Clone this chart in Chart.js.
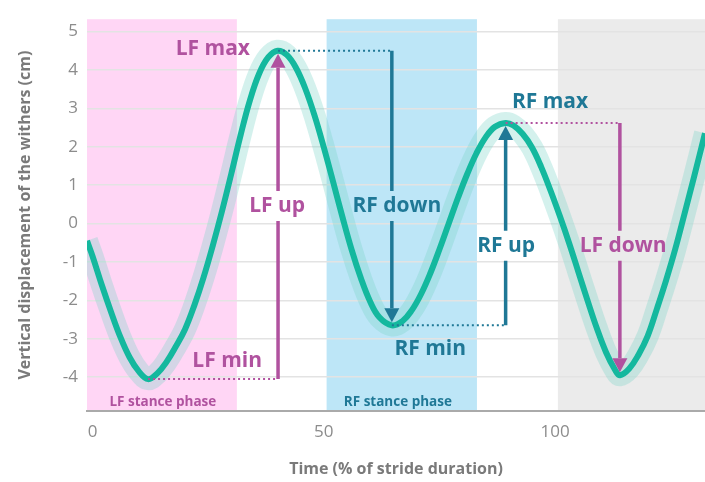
<!DOCTYPE html>
<html>
<head>
<meta charset="utf-8">
<script src="https://cdn.jsdelivr.net/npm/chart.js@4.4.1/dist/chart.umd.min.js"></script>
<style>
	html, body { margin: 0; padding: 0; background: #fff; }
	#wrap { width: 705px; height: 482px; }
</style>
</head>
<body>
<div id="wrap"><canvas id="chart"></canvas></div>
<script>

// withers trace (x = % of stride, y = cm)
var strideX  = [-1.2, 0, 2, 4, 6, 8, 10, 12, 14, 16, 18, 20, 22, 24, 26, 28, 30, 32, 34, 36, 38, 40,
	42, 44, 46, 48, 50, 52, 54, 56, 58, 60, 62, 64.7, 67, 69, 71, 73, 75, 77, 79, 81, 83, 85, 87, 89.3,
	91, 93, 95, 97, 99, 101, 103, 105, 107, 109, 111, 113, 114, 116, 118, 120, 122, 124, 126, 128, 130, 132.4];
var withersY = [-0.45, -0.85, -1.6, -2.3, -2.95, -3.48, -3.85, -4.05, -3.9, -3.6, -3.2, -2.75, -2.13, -1.4, -0.57, 0.33, 1.3, 2.3, 3.2, 3.9, 4.33, 4.5,
	4.39, 4.05, 3.51, 2.81, 1.98, 1.09, 0.18, -0.68, -1.42, -2.03, -2.44, -2.65, -2.54, -2.26, -1.84, -1.3, -0.67, 0.0, 0.67, 1.29, 1.83, 2.25, 2.52, 2.62,
	2.55, 2.33, 1.98, 1.47, 0.86, 0.2, -0.5, -1.25, -2.0, -2.72, -3.35, -3.82, -3.95, -3.78, -3.42, -2.93, -2.22, -1.47, -0.65, 0.27, 1.2, 2.35];

var xTicks = [0, 50, 100];
var yTicks = [-4, -3, -2, -1, 0, 1, 2, 3, 4, 5];

var purple = "#b0529f",
	blue   = "#1f7896";

// stance phases
var phaseStart  = [-1.2, 50.6, 100.6];
var phaseEnd    = [31.2, 83.1, 132.4];
var phaseColors = ["#ffd6f5", "#bde6f7", "#ebebeb"];
var phaseNames  = ["LF stance phase", "RF stance phase"];
var phaseTextX  = [15.2, 66.0];
var phaseTextY  = -4.65;

// vertical arrows between extremes
var arrowNames  = ["LF up", "RF down", "RF up", "LF down"];
var arrowX      = [40.1, 64.7, 89.3, 114];
var arrowFrom   = [-4.05, 4.5, -2.65, 2.62];
var arrowTo     = [4.5, -2.65, 2.62, -3.95];
var arrowTextX  = [39.9, 65.8, 89.4, 114.7];
var arrowTextY  = [0.46, 0.46, -0.58, -0.58];
var arrowColors = [purple, blue, blue, purple];

// dotted guides from each extreme to its arrow
var dotFromX  = [12, 40.1, 64.7, 89.3];
var dotToX    = [40.1, 64.7, 89.3, 114];
var dotY      = [-4.05, 4.5, -2.65, 2.62];
var dotColors = [purple, blue, blue, purple];

// extreme labels
var peakNames  = ["LF max", "LF min", "RF min", "RF max"];
var peakTextX  = [26.0, 29.1, 73.0, 98.9];
var peakTextY  = [4.55, -3.58, -3.27, 3.16];
var peakColors = [purple, purple, blue, blue];

function drawArrow(ctx, x, y0, y1, yText, color) {
	var dir = y1 < y0 ? -1 : 1, head = 14, half = 7.5, gap = 15;
	y1 = y1 - dir * 3;
	ctx.strokeStyle = color;
	ctx.fillStyle = color;
	ctx.lineWidth = 3.5;
	ctx.setLineDash([]);
	ctx.beginPath();
	ctx.moveTo(x, y0);
	ctx.lineTo(x, yText - dir * gap);
	ctx.moveTo(x, yText + dir * gap);
	ctx.lineTo(x, y1 - dir * head);
	ctx.stroke();
	ctx.beginPath();
	ctx.moveTo(x, y1);
	ctx.lineTo(x - half, y1 - dir * head);
	ctx.lineTo(x + half, y1 - dir * head);
	ctx.closePath();
	ctx.fill();
}

var gaitPlugin = {
	id: "gait",
	beforeDraw: function (chart) {
		var ctx = chart.ctx, area = chart.chartArea, xs = chart.scales.x;
		ctx.save();
		for (var i = 0; i < phaseStart.length; i++) {
			var x0 = Math.max(area.left, xs.getPixelForValue(phaseStart[i]));
			var x1 = Math.min(area.right, xs.getPixelForValue(phaseEnd[i]));
			ctx.fillStyle = phaseColors[i];
			ctx.fillRect(x0, area.top, x1 - x0, area.bottom - area.top);
		}
		ctx.restore();
	},
	afterDatasetsDraw: function (chart) {
		var ctx = chart.ctx, xs = chart.scales.x, ys = chart.scales.y, i;
		ctx.save();

		ctx.lineWidth = 2;
		ctx.setLineDash([2, 3]);
		for (i = 0; i < dotY.length; i++) {
			ctx.strokeStyle = dotColors[i];
			ctx.beginPath();
			ctx.moveTo(xs.getPixelForValue(dotFromX[i]), ys.getPixelForValue(dotY[i]));
			ctx.lineTo(xs.getPixelForValue(dotToX[i]), ys.getPixelForValue(dotY[i]));
			ctx.stroke();
		}

		for (i = 0; i < arrowX.length; i++) {
			drawArrow(ctx, xs.getPixelForValue(arrowX[i]), ys.getPixelForValue(arrowFrom[i]),
				ys.getPixelForValue(arrowTo[i]), ys.getPixelForValue(arrowTextY[i]), arrowColors[i]);
		}

		ctx.textAlign = "center";
		ctx.textBaseline = "middle";
		ctx.font = "bold 21px 'Open Sans'";
		for (i = 0; i < arrowNames.length; i++) {
			ctx.fillStyle = arrowColors[i];
			ctx.fillText(arrowNames[i], xs.getPixelForValue(arrowTextX[i]), ys.getPixelForValue(arrowTextY[i]));
		}
		for (i = 0; i < peakNames.length; i++) {
			ctx.fillStyle = peakColors[i];
			ctx.fillText(peakNames[i], xs.getPixelForValue(peakTextX[i]), ys.getPixelForValue(peakTextY[i]));
		}

		ctx.font = "bold 13.5px 'Open Sans'";
		ctx.fillStyle = purple;
		ctx.fillText(phaseNames[0], xs.getPixelForValue(phaseTextX[0]), ys.getPixelForValue(phaseTextY));
		ctx.fillStyle = blue;
		ctx.fillText(phaseNames[1], xs.getPixelForValue(phaseTextX[1]), ys.getPixelForValue(phaseTextY));

		ctx.restore();
	}
};

var points = strideX.map(function (x, i) { return { x: x, y: withersY[i] }; });

new Chart(document.getElementById("chart"), {
	type: "line",
	data: {
		datasets: [
			{
				data: points,
				borderColor: "#14b89e",
				borderWidth: 6,
				pointRadius: 0,
				fill: false,
				tension: 0.4
			},
			{
				// translucent band round the trace
				data: points,
				borderColor: "rgba(120,210,200,0.32)",
				borderWidth: 22,
				pointRadius: 0,
				fill: false,
				tension: 0.4
			}
		]
	},
	options: {
		responsive: true,
		maintainAspectRatio: false,
		animation: false,
		layout: { padding: { top: 10, right: 0, left: 0, bottom: 0 } },
		plugins: { legend: { display: false }, tooltip: { enabled: false } },
		scales: {
			x: {
				type: "linear",
				min: -1.2,
				max: 132.4,
				afterBuildTicks: function (s) { s.ticks = xTicks.map(function (v) { return { value: v }; }); },
				afterFit: function (s) { s.height = 71; },
				grid: { display: false, drawTicks: false },
				border: { display: true, color: "#aaaaaa", width: 2 },
				ticks: { color: "#8c8c8c", font: { family: "Open Sans", size: 17 }, padding: 11, maxRotation: 0 },
				title: {
					display: true,
					text: "Time (% of stride duration)",
					color: "#7a7a7a",
					font: { family: "Open Sans", size: 16, weight: "bold" },
					padding: { top: 0, bottom: 3 }
				}
			},
			y: {
				min: -4.88,
				max: 5.32,
				afterBuildTicks: function (s) { s.ticks = yTicks.map(function (v) { return { value: v }; }); },
				afterFit: function (s) { s.width = 87; },
				grid: { color: "#e3e3e3", lineWidth: 1.5, drawTicks: false },
				border: { display: false },
				ticks: { color: "#8c8c8c", font: { family: "Open Sans", size: 17 }, padding: 9 },
				title: {
					display: true,
					text: "Vertical displacement of the withers (cm)",
					color: "#7a7a7a",
					font: { family: "Open Sans", size: 16, weight: "bold" },
					padding: { top: 16, bottom: 0 }
				}
			}
		}
	},
	plugins: [gaitPlugin]
});
</script>
</body>
</html>
